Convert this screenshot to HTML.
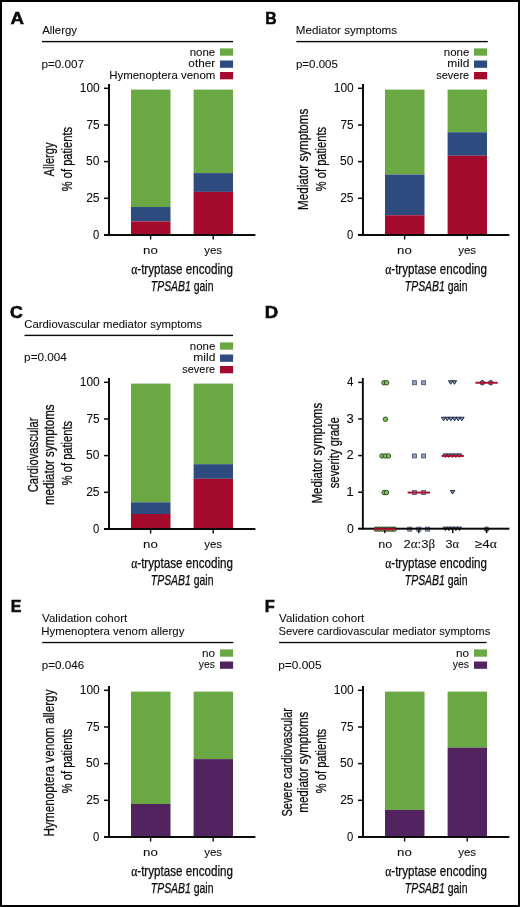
<!DOCTYPE html>
<html><head><meta charset="utf-8"><style>
html,body{margin:0;padding:0;background:#fff;}
body{width:520px;height:907px;overflow:hidden;position:relative;}
svg{position:absolute;left:0;top:0;display:block;}
.tx{will-change:transform;}
text{font-family:"Liberation Sans",sans-serif;fill:#0a0a0a;}
.frame{position:absolute;left:0;top:0;width:516px;height:903px;border:2px solid #000;}
</style></head><body>
<svg width="520" height="907" viewBox="0 0 520 907">
<rect x="42.00" y="40.90" width="191.00" height="1.40" fill="#0a0a0a"/>
<rect x="220.00" y="48.40" width="13.10" height="7.30" fill="#6aa843"/>
<rect x="220.00" y="60.50" width="13.10" height="7.30" fill="#2d4b7e"/>
<rect x="220.00" y="72.00" width="13.10" height="7.30" fill="#a30a2b"/>
<rect x="131.00" y="89.60" width="39.50" height="117.40" fill="#6aa843"/>
<rect x="131.00" y="207.00" width="39.50" height="14.40" fill="#2d4b7e"/>
<rect x="131.00" y="221.40" width="39.50" height="12.60" fill="#a30a2b"/>
<rect x="193.60" y="89.60" width="39.40" height="83.50" fill="#6aa843"/>
<rect x="193.60" y="173.10" width="39.40" height="18.80" fill="#2d4b7e"/>
<rect x="193.60" y="191.90" width="39.40" height="42.10" fill="#a30a2b"/>
<rect x="108.00" y="84.00" width="2.00" height="152.00" fill="#0a0a0a"/>
<rect x="104.00" y="234.00" width="151.40" height="2.00" fill="#0a0a0a"/>
<rect x="104.00" y="87.55" width="4.00" height="1.50" fill="#0a0a0a"/>
<rect x="104.00" y="124.25" width="4.00" height="1.50" fill="#0a0a0a"/>
<rect x="104.00" y="160.85" width="4.00" height="1.50" fill="#0a0a0a"/>
<rect x="104.00" y="197.55" width="4.00" height="1.50" fill="#0a0a0a"/>
<rect x="149.90" y="236.00" width="1.40" height="3.50" fill="#0a0a0a"/>
<rect x="212.50" y="236.00" width="1.40" height="3.50" fill="#0a0a0a"/>
<rect x="296.30" y="40.90" width="191.50" height="1.40" fill="#0a0a0a"/>
<rect x="474.00" y="48.40" width="13.10" height="7.30" fill="#6aa843"/>
<rect x="474.00" y="60.50" width="13.10" height="7.30" fill="#2d4b7e"/>
<rect x="474.00" y="72.00" width="13.10" height="7.30" fill="#a30a2b"/>
<rect x="385.00" y="89.60" width="39.50" height="84.90" fill="#6aa843"/>
<rect x="385.00" y="174.50" width="39.50" height="40.75" fill="#2d4b7e"/>
<rect x="385.00" y="215.25" width="39.50" height="18.75" fill="#a30a2b"/>
<rect x="447.60" y="89.60" width="39.40" height="42.65" fill="#6aa843"/>
<rect x="447.60" y="132.25" width="39.40" height="23.50" fill="#2d4b7e"/>
<rect x="447.60" y="155.75" width="39.40" height="78.25" fill="#a30a2b"/>
<rect x="362.00" y="84.00" width="2.00" height="152.00" fill="#0a0a0a"/>
<rect x="358.00" y="234.00" width="151.40" height="2.00" fill="#0a0a0a"/>
<rect x="358.00" y="87.55" width="4.00" height="1.50" fill="#0a0a0a"/>
<rect x="358.00" y="124.25" width="4.00" height="1.50" fill="#0a0a0a"/>
<rect x="358.00" y="160.85" width="4.00" height="1.50" fill="#0a0a0a"/>
<rect x="358.00" y="197.55" width="4.00" height="1.50" fill="#0a0a0a"/>
<rect x="403.90" y="236.00" width="1.40" height="3.50" fill="#0a0a0a"/>
<rect x="466.50" y="236.00" width="1.40" height="3.50" fill="#0a0a0a"/>
<rect x="24.50" y="334.70" width="208.50" height="1.40" fill="#0a0a0a"/>
<rect x="220.00" y="342.40" width="13.10" height="7.30" fill="#6aa843"/>
<rect x="220.00" y="354.50" width="13.10" height="7.30" fill="#2d4b7e"/>
<rect x="220.00" y="366.00" width="13.10" height="7.30" fill="#a30a2b"/>
<rect x="131.00" y="383.60" width="39.50" height="118.70" fill="#6aa843"/>
<rect x="131.00" y="502.30" width="39.50" height="11.70" fill="#2d4b7e"/>
<rect x="131.00" y="514.00" width="39.50" height="14.00" fill="#a30a2b"/>
<rect x="193.60" y="383.60" width="39.40" height="80.60" fill="#6aa843"/>
<rect x="193.60" y="464.20" width="39.40" height="14.60" fill="#2d4b7e"/>
<rect x="193.60" y="478.80" width="39.40" height="49.20" fill="#a30a2b"/>
<rect x="108.00" y="378.00" width="2.00" height="152.00" fill="#0a0a0a"/>
<rect x="104.00" y="528.00" width="151.40" height="2.00" fill="#0a0a0a"/>
<rect x="104.00" y="381.55" width="4.00" height="1.50" fill="#0a0a0a"/>
<rect x="104.00" y="418.25" width="4.00" height="1.50" fill="#0a0a0a"/>
<rect x="104.00" y="454.85" width="4.00" height="1.50" fill="#0a0a0a"/>
<rect x="104.00" y="491.55" width="4.00" height="1.50" fill="#0a0a0a"/>
<rect x="149.90" y="530.00" width="1.40" height="3.50" fill="#0a0a0a"/>
<rect x="212.50" y="530.00" width="1.40" height="3.50" fill="#0a0a0a"/>
<circle cx="384.00" cy="382.75" r="2.25" fill="#7cc35a" stroke="#2a3f22" stroke-width="0.9"/>
<circle cx="386.60" cy="382.75" r="2.25" fill="#7cc35a" stroke="#2a3f22" stroke-width="0.9"/>
<circle cx="385.40" cy="419.25" r="2.25" fill="#7cc35a" stroke="#2a3f22" stroke-width="0.9"/>
<circle cx="382.00" cy="455.95" r="2.25" fill="#7cc35a" stroke="#2a3f22" stroke-width="0.9"/>
<circle cx="385.30" cy="455.95" r="2.25" fill="#7cc35a" stroke="#2a3f22" stroke-width="0.9"/>
<circle cx="388.40" cy="455.95" r="2.25" fill="#7cc35a" stroke="#2a3f22" stroke-width="0.9"/>
<circle cx="384.10" cy="492.55" r="2.25" fill="#7cc35a" stroke="#2a3f22" stroke-width="0.9"/>
<circle cx="386.50" cy="492.55" r="2.25" fill="#7cc35a" stroke="#2a3f22" stroke-width="0.9"/>
<circle cx="376.20" cy="529.15" r="2.25" fill="#7cc35a" stroke="#2a3f22" stroke-width="0.9"/>
<circle cx="379.30" cy="529.15" r="2.25" fill="#7cc35a" stroke="#2a3f22" stroke-width="0.9"/>
<circle cx="382.40" cy="529.15" r="2.25" fill="#7cc35a" stroke="#2a3f22" stroke-width="0.9"/>
<circle cx="385.50" cy="529.15" r="2.25" fill="#7cc35a" stroke="#2a3f22" stroke-width="0.9"/>
<circle cx="388.60" cy="529.15" r="2.25" fill="#7cc35a" stroke="#2a3f22" stroke-width="0.9"/>
<circle cx="391.70" cy="529.15" r="2.25" fill="#7cc35a" stroke="#2a3f22" stroke-width="0.9"/>
<circle cx="394.20" cy="529.15" r="2.25" fill="#7cc35a" stroke="#2a3f22" stroke-width="0.9"/>
<rect x="412.40" y="380.75" width="4" height="4" fill="#8fa1c9" stroke="#44506e" stroke-width="0.8"/>
<rect x="421.60" y="380.75" width="4" height="4" fill="#8fa1c9" stroke="#44506e" stroke-width="0.8"/>
<rect x="412.40" y="453.95" width="4" height="4" fill="#8fa1c9" stroke="#44506e" stroke-width="0.8"/>
<rect x="421.60" y="453.95" width="4" height="4" fill="#8fa1c9" stroke="#44506e" stroke-width="0.8"/>
<rect x="412.40" y="490.55" width="4" height="4" fill="#8fa1c9" stroke="#44506e" stroke-width="0.8"/>
<rect x="421.60" y="490.55" width="4" height="4" fill="#8fa1c9" stroke="#44506e" stroke-width="0.8"/>
<rect x="407.70" y="527.15" width="4" height="4" fill="#8fa1c9" stroke="#44506e" stroke-width="0.8"/>
<rect x="416.80" y="527.15" width="4" height="4" fill="#8fa1c9" stroke="#44506e" stroke-width="0.8"/>
<rect x="425.60" y="527.15" width="4" height="4" fill="#8fa1c9" stroke="#44506e" stroke-width="0.8"/>
<path d="M448.45,380.75L452.95,380.75L450.70,384.25Z" fill="#8099c8" stroke="#1c2338" stroke-width="0.95" stroke-linejoin="round"/>
<path d="M452.15,380.75L456.65,380.75L454.40,384.25Z" fill="#8099c8" stroke="#1c2338" stroke-width="0.95" stroke-linejoin="round"/>
<path d="M441.35,417.25L445.85,417.25L443.60,420.75Z" fill="#8099c8" stroke="#1c2338" stroke-width="0.95" stroke-linejoin="round"/>
<path d="M445.01,417.25L449.51,417.25L447.26,420.75Z" fill="#8099c8" stroke="#1c2338" stroke-width="0.95" stroke-linejoin="round"/>
<path d="M448.67,417.25L453.17,417.25L450.92,420.75Z" fill="#8099c8" stroke="#1c2338" stroke-width="0.95" stroke-linejoin="round"/>
<path d="M452.33,417.25L456.83,417.25L454.58,420.75Z" fill="#8099c8" stroke="#1c2338" stroke-width="0.95" stroke-linejoin="round"/>
<path d="M455.99,417.25L460.49,417.25L458.24,420.75Z" fill="#8099c8" stroke="#1c2338" stroke-width="0.95" stroke-linejoin="round"/>
<path d="M459.65,417.25L464.15,417.25L461.90,420.75Z" fill="#8099c8" stroke="#1c2338" stroke-width="0.95" stroke-linejoin="round"/>
<path d="M443.15,453.95L447.65,453.95L445.40,457.45Z" fill="#8099c8" stroke="#1c2338" stroke-width="0.95" stroke-linejoin="round"/>
<path d="M446.65,453.95L451.15,453.95L448.90,457.45Z" fill="#8099c8" stroke="#1c2338" stroke-width="0.95" stroke-linejoin="round"/>
<path d="M450.15,453.95L454.65,453.95L452.40,457.45Z" fill="#8099c8" stroke="#1c2338" stroke-width="0.95" stroke-linejoin="round"/>
<path d="M453.65,453.95L458.15,453.95L455.90,457.45Z" fill="#8099c8" stroke="#1c2338" stroke-width="0.95" stroke-linejoin="round"/>
<path d="M457.15,453.95L461.65,453.95L459.40,457.45Z" fill="#8099c8" stroke="#1c2338" stroke-width="0.95" stroke-linejoin="round"/>
<path d="M450.35,490.55L454.85,490.55L452.60,494.05Z" fill="#8099c8" stroke="#1c2338" stroke-width="0.95" stroke-linejoin="round"/>
<path d="M443.15,527.15L447.65,527.15L445.40,530.65Z" fill="#8099c8" stroke="#1c2338" stroke-width="0.95" stroke-linejoin="round"/>
<path d="M446.65,527.15L451.15,527.15L448.90,530.65Z" fill="#8099c8" stroke="#1c2338" stroke-width="0.95" stroke-linejoin="round"/>
<path d="M450.15,527.15L454.65,527.15L452.40,530.65Z" fill="#8099c8" stroke="#1c2338" stroke-width="0.95" stroke-linejoin="round"/>
<path d="M453.65,527.15L458.15,527.15L455.90,530.65Z" fill="#8099c8" stroke="#1c2338" stroke-width="0.95" stroke-linejoin="round"/>
<path d="M457.15,527.15L461.65,527.15L459.40,530.65Z" fill="#8099c8" stroke="#1c2338" stroke-width="0.95" stroke-linejoin="round"/>
<circle cx="482.30" cy="382.75" r="2.25" fill="#6b7890" stroke="#283040" stroke-width="0.9"/>
<circle cx="490.70" cy="382.75" r="2.25" fill="#6b7890" stroke="#283040" stroke-width="0.9"/>
<circle cx="486.60" cy="529.15" r="2.25" fill="#6b7890" stroke="#283040" stroke-width="0.9"/>
<rect x="361.90" y="378.00" width="1.90" height="151.70" fill="#0a0a0a"/>
<rect x="358.00" y="527.70" width="151.40" height="2.00" fill="#0a0a0a"/>
<rect x="358.20" y="491.45" width="3.80" height="1.50" fill="#0a0a0a"/>
<rect x="358.20" y="454.85" width="3.80" height="1.50" fill="#0a0a0a"/>
<rect x="358.20" y="418.15" width="3.80" height="1.50" fill="#0a0a0a"/>
<rect x="358.20" y="381.65" width="3.80" height="1.50" fill="#0a0a0a"/>
<rect x="384.10" y="529.70" width="1.40" height="3.50" fill="#0a0a0a"/>
<rect x="418.10" y="529.70" width="1.40" height="3.50" fill="#0a0a0a"/>
<rect x="452.10" y="529.70" width="1.40" height="3.50" fill="#0a0a0a"/>
<rect x="485.90" y="529.70" width="1.40" height="3.50" fill="#0a0a0a"/>
<rect x="373.65" y="528.15" width="22.30" height="2.00" fill="#b0112e"/>
<rect x="407.65" y="491.55" width="22.30" height="2.00" fill="#b0112e"/>
<rect x="441.65" y="454.95" width="22.30" height="2.00" fill="#b0112e"/>
<rect x="475.45" y="381.75" width="22.30" height="2.00" fill="#b0112e"/>
<rect x="42.20" y="641.85" width="191.10" height="1.35" fill="#0a0a0a"/>
<rect x="220.00" y="649.40" width="13.10" height="7.30" fill="#6aa843"/>
<rect x="220.00" y="661.50" width="13.10" height="7.30" fill="#51245f"/>
<rect x="131.00" y="691.60" width="39.50" height="112.40" fill="#6aa843"/>
<rect x="131.00" y="804.00" width="39.50" height="32.00" fill="#51245f"/>
<rect x="193.60" y="691.60" width="39.40" height="67.50" fill="#6aa843"/>
<rect x="193.60" y="759.10" width="39.40" height="76.90" fill="#51245f"/>
<rect x="108.00" y="686.00" width="2.00" height="152.00" fill="#0a0a0a"/>
<rect x="104.00" y="836.00" width="151.40" height="2.00" fill="#0a0a0a"/>
<rect x="104.00" y="689.55" width="4.00" height="1.50" fill="#0a0a0a"/>
<rect x="104.00" y="726.25" width="4.00" height="1.50" fill="#0a0a0a"/>
<rect x="104.00" y="762.85" width="4.00" height="1.50" fill="#0a0a0a"/>
<rect x="104.00" y="799.55" width="4.00" height="1.50" fill="#0a0a0a"/>
<rect x="149.90" y="838.00" width="1.40" height="3.50" fill="#0a0a0a"/>
<rect x="212.50" y="838.00" width="1.40" height="3.50" fill="#0a0a0a"/>
<rect x="279.00" y="641.85" width="207.50" height="1.35" fill="#0a0a0a"/>
<rect x="474.00" y="649.40" width="13.10" height="7.30" fill="#6aa843"/>
<rect x="474.00" y="661.50" width="13.10" height="7.30" fill="#51245f"/>
<rect x="385.00" y="691.60" width="39.50" height="118.30" fill="#6aa843"/>
<rect x="385.00" y="809.90" width="39.50" height="26.10" fill="#51245f"/>
<rect x="447.60" y="691.60" width="39.40" height="56.00" fill="#6aa843"/>
<rect x="447.60" y="747.60" width="39.40" height="88.40" fill="#51245f"/>
<rect x="362.00" y="686.00" width="2.00" height="152.00" fill="#0a0a0a"/>
<rect x="358.00" y="836.00" width="151.40" height="2.00" fill="#0a0a0a"/>
<rect x="358.00" y="689.55" width="4.00" height="1.50" fill="#0a0a0a"/>
<rect x="358.00" y="726.25" width="4.00" height="1.50" fill="#0a0a0a"/>
<rect x="358.00" y="762.85" width="4.00" height="1.50" fill="#0a0a0a"/>
<rect x="358.00" y="799.55" width="4.00" height="1.50" fill="#0a0a0a"/>
<rect x="403.90" y="838.00" width="1.40" height="3.50" fill="#0a0a0a"/>
<rect x="466.50" y="838.00" width="1.40" height="3.50" fill="#0a0a0a"/>
<g class="tx">
<text id="A_L" x="10.402" y="24.30" font-size="16.8" textLength="13.491" lengthAdjust="spacingAndGlyphs" font-weight="bold" stroke="#0a0a0a" stroke-width="0.55">A</text>
<text id="A_h1" x="42.145" y="34.00" font-size="10.8" textLength="34.959" lengthAdjust="spacingAndGlyphs" stroke="#0a0a0a" stroke-width="0.06">Allergy</text>
<text id="A_leg0" x="189.649" y="55.70" font-size="11" textLength="25.606" lengthAdjust="spacingAndGlyphs" stroke="#0a0a0a" stroke-width="0.06">none</text>
<text id="A_leg1" x="188.383" y="67.40" font-size="11" textLength="26.841" lengthAdjust="spacingAndGlyphs" stroke="#0a0a0a" stroke-width="0.06">other</text>
<text id="A_leg2" x="109.197" y="79.10" font-size="11" textLength="106.068" lengthAdjust="spacingAndGlyphs" stroke="#0a0a0a" stroke-width="0.06">Hymenoptera venom</text>
<text id="A_p" x="41.519" y="67.60" font-size="11.5" textLength="42.551" lengthAdjust="spacingAndGlyphs" stroke="#0a0a0a" stroke-width="0.06">p=0.007</text>
<text id="A_t100" x="79.747" y="92.00" font-size="12" textLength="20.011" lengthAdjust="spacingAndGlyphs" stroke="#0a0a0a" stroke-width="0.06">100</text>
<text id="A_t75" x="86.570" y="128.70" font-size="12" textLength="13.083" lengthAdjust="spacingAndGlyphs" stroke="#0a0a0a" stroke-width="0.06">75</text>
<text id="A_t50" x="85.985" y="165.30" font-size="12" textLength="13.332" lengthAdjust="spacingAndGlyphs" stroke="#0a0a0a" stroke-width="0.06">50</text>
<text id="A_t25" x="86.142" y="202.00" font-size="12" textLength="13.430" lengthAdjust="spacingAndGlyphs" stroke="#0a0a0a" stroke-width="0.06">25</text>
<text id="A_t0" x="93.057" y="238.50" font-size="12" textLength="6.273" lengthAdjust="spacingAndGlyphs" stroke="#0a0a0a" stroke-width="0.06">0</text>
<text id="A_cno" x="143.046" y="253.80" font-size="11.6" textLength="14.795" lengthAdjust="spacingAndGlyphs" stroke="#0a0a0a" stroke-width="0.06">no</text>
<text id="A_cyes" x="204.183" y="253.80" font-size="11.6" textLength="17.915" lengthAdjust="spacingAndGlyphs" stroke="#0a0a0a" stroke-width="0.06">yes</text>
<text id="A_xt1" x="131.163" y="273.90" font-size="14.3" textLength="101.809" lengthAdjust="spacingAndGlyphs" stroke="#0a0a0a" stroke-width="0.25"><tspan font-family="Liberation Serif">&#945;</tspan>-tryptase encoding</text>
<text id="A_xt2" x="150.800" y="291.40" font-size="14.3" textLength="62.681" lengthAdjust="spacingAndGlyphs" stroke="#0a0a0a" stroke-width="0.25"><tspan font-style="italic">TPSAB1</tspan> gain</text>
<text id="A_yt0" transform="translate(54.20,176.561) rotate(-90)" x="0" y="0" font-size="14.3" textLength="34.251" lengthAdjust="spacingAndGlyphs" stroke="#0a0a0a" stroke-width="0.25">Allergy</text>
<text id="A_yt1" transform="translate(71.50,191.127) rotate(-90)" x="0" y="0" font-size="14.3" textLength="64.148" lengthAdjust="spacingAndGlyphs" stroke="#0a0a0a" stroke-width="0.25">% of patients</text>
<text id="B_L" x="265.249" y="24.35" font-size="16.8" textLength="11.389" lengthAdjust="spacingAndGlyphs" font-weight="bold" stroke="#0a0a0a" stroke-width="0.55">B</text>
<text id="B_h1" x="295.813" y="34.00" font-size="10.8" textLength="101.244" lengthAdjust="spacingAndGlyphs" stroke="#0a0a0a" stroke-width="0.06">Mediator symptoms</text>
<text id="B_leg0" x="443.795" y="55.70" font-size="11" textLength="25.538" lengthAdjust="spacingAndGlyphs" stroke="#0a0a0a" stroke-width="0.06">none</text>
<text id="B_leg1" x="447.366" y="67.40" font-size="11" textLength="22.002" lengthAdjust="spacingAndGlyphs" stroke="#0a0a0a" stroke-width="0.06">mild</text>
<text id="B_leg2" x="436.306" y="79.10" font-size="11" textLength="32.864" lengthAdjust="spacingAndGlyphs" stroke="#0a0a0a" stroke-width="0.06">severe</text>
<text id="B_p" x="295.917" y="67.80" font-size="11.5" textLength="41.964" lengthAdjust="spacingAndGlyphs" stroke="#0a0a0a" stroke-width="0.06">p=0.005</text>
<text id="B_t100" x="333.747" y="92.00" font-size="12" textLength="20.011" lengthAdjust="spacingAndGlyphs" stroke="#0a0a0a" stroke-width="0.06">100</text>
<text id="B_t75" x="340.570" y="128.70" font-size="12" textLength="13.083" lengthAdjust="spacingAndGlyphs" stroke="#0a0a0a" stroke-width="0.06">75</text>
<text id="B_t50" x="339.985" y="165.30" font-size="12" textLength="13.332" lengthAdjust="spacingAndGlyphs" stroke="#0a0a0a" stroke-width="0.06">50</text>
<text id="B_t25" x="340.142" y="202.00" font-size="12" textLength="13.430" lengthAdjust="spacingAndGlyphs" stroke="#0a0a0a" stroke-width="0.06">25</text>
<text id="B_t0" x="347.057" y="238.50" font-size="12" textLength="6.273" lengthAdjust="spacingAndGlyphs" stroke="#0a0a0a" stroke-width="0.06">0</text>
<text id="B_cno" x="397.046" y="253.80" font-size="11.6" textLength="14.795" lengthAdjust="spacingAndGlyphs" stroke="#0a0a0a" stroke-width="0.06">no</text>
<text id="B_cyes" x="458.183" y="253.80" font-size="11.6" textLength="17.915" lengthAdjust="spacingAndGlyphs" stroke="#0a0a0a" stroke-width="0.06">yes</text>
<text id="B_xt1" x="385.163" y="273.90" font-size="14.3" textLength="101.809" lengthAdjust="spacingAndGlyphs" stroke="#0a0a0a" stroke-width="0.25"><tspan font-family="Liberation Serif">&#945;</tspan>-tryptase encoding</text>
<text id="B_xt2" x="404.800" y="291.40" font-size="14.3" textLength="62.681" lengthAdjust="spacingAndGlyphs" stroke="#0a0a0a" stroke-width="0.25"><tspan font-style="italic">TPSAB1</tspan> gain</text>
<text id="B_yt0" transform="translate(308.20,209.891) rotate(-90)" x="0" y="0" font-size="14.3" textLength="101.183" lengthAdjust="spacingAndGlyphs" stroke="#0a0a0a" stroke-width="0.25">Mediator symptoms</text>
<text id="B_yt1" transform="translate(325.50,191.127) rotate(-90)" x="0" y="0" font-size="14.3" textLength="64.148" lengthAdjust="spacingAndGlyphs" stroke="#0a0a0a" stroke-width="0.25">% of patients</text>
<text id="C_L" x="10.067" y="318.20" font-size="16.8" textLength="12.841" lengthAdjust="spacingAndGlyphs" font-weight="bold" stroke="#0a0a0a" stroke-width="0.55">C</text>
<text id="C_h1" x="24.315" y="328.00" font-size="10.8" textLength="177.585" lengthAdjust="spacingAndGlyphs" stroke="#0a0a0a" stroke-width="0.06">Cardiovascular mediator symptoms</text>
<text id="C_leg0" x="189.795" y="349.70" font-size="11" textLength="25.538" lengthAdjust="spacingAndGlyphs" stroke="#0a0a0a" stroke-width="0.06">none</text>
<text id="C_leg1" x="193.366" y="361.40" font-size="11" textLength="22.002" lengthAdjust="spacingAndGlyphs" stroke="#0a0a0a" stroke-width="0.06">mild</text>
<text id="C_leg2" x="182.306" y="373.10" font-size="11" textLength="32.864" lengthAdjust="spacingAndGlyphs" stroke="#0a0a0a" stroke-width="0.06">severe</text>
<text id="C_p" x="24.128" y="361.30" font-size="11.5" textLength="42.700" lengthAdjust="spacingAndGlyphs" stroke="#0a0a0a" stroke-width="0.06">p=0.004</text>
<text id="C_t100" x="79.747" y="386.00" font-size="12" textLength="20.011" lengthAdjust="spacingAndGlyphs" stroke="#0a0a0a" stroke-width="0.06">100</text>
<text id="C_t75" x="86.570" y="422.70" font-size="12" textLength="13.083" lengthAdjust="spacingAndGlyphs" stroke="#0a0a0a" stroke-width="0.06">75</text>
<text id="C_t50" x="85.985" y="459.30" font-size="12" textLength="13.332" lengthAdjust="spacingAndGlyphs" stroke="#0a0a0a" stroke-width="0.06">50</text>
<text id="C_t25" x="86.142" y="496.00" font-size="12" textLength="13.430" lengthAdjust="spacingAndGlyphs" stroke="#0a0a0a" stroke-width="0.06">25</text>
<text id="C_t0" x="93.057" y="532.50" font-size="12" textLength="6.273" lengthAdjust="spacingAndGlyphs" stroke="#0a0a0a" stroke-width="0.06">0</text>
<text id="C_cno" x="143.046" y="547.80" font-size="11.6" textLength="14.795" lengthAdjust="spacingAndGlyphs" stroke="#0a0a0a" stroke-width="0.06">no</text>
<text id="C_cyes" x="204.183" y="547.80" font-size="11.6" textLength="17.915" lengthAdjust="spacingAndGlyphs" stroke="#0a0a0a" stroke-width="0.06">yes</text>
<text id="C_xt1" x="131.163" y="567.90" font-size="14.3" textLength="101.809" lengthAdjust="spacingAndGlyphs" stroke="#0a0a0a" stroke-width="0.25"><tspan font-family="Liberation Serif">&#945;</tspan>-tryptase encoding</text>
<text id="C_xt2" x="150.800" y="585.40" font-size="14.3" textLength="62.681" lengthAdjust="spacingAndGlyphs" stroke="#0a0a0a" stroke-width="0.25"><tspan font-style="italic">TPSAB1</tspan> gain</text>
<text id="C_yt0" transform="translate(37.60,492.364) rotate(-90)" x="0" y="0" font-size="14.3" textLength="74.986" lengthAdjust="spacingAndGlyphs" stroke="#0a0a0a" stroke-width="0.25">Cardiovascular</text>
<text id="C_yt1" transform="translate(54.10,504.992) rotate(-90)" x="0" y="0" font-size="14.3" textLength="100.497" lengthAdjust="spacingAndGlyphs" stroke="#0a0a0a" stroke-width="0.25">mediator symptoms</text>
<text id="C_yt2" transform="translate(71.60,485.152) rotate(-90)" x="0" y="0" font-size="14.3" textLength="64.174" lengthAdjust="spacingAndGlyphs" stroke="#0a0a0a" stroke-width="0.25">% of patients</text>
<text id="D_L" x="264.762" y="317.80" font-size="16.8" textLength="13.421" lengthAdjust="spacingAndGlyphs" font-weight="bold" stroke="#0a0a0a" stroke-width="0.55">D</text>
<text id="D_t0" x="346.973" y="532.50" font-size="12" textLength="6.820" lengthAdjust="spacingAndGlyphs" stroke="#0a0a0a" stroke-width="0.06">0</text>
<text id="D_t1" x="346.379" y="495.90" font-size="12" textLength="7.525" lengthAdjust="spacingAndGlyphs" stroke="#0a0a0a" stroke-width="0.06">1</text>
<text id="D_t2" x="346.583" y="459.30" font-size="12" textLength="7.152" lengthAdjust="spacingAndGlyphs" stroke="#0a0a0a" stroke-width="0.06">2</text>
<text id="D_t3" x="346.569" y="422.60" font-size="12" textLength="7.245" lengthAdjust="spacingAndGlyphs" stroke="#0a0a0a" stroke-width="0.06">3</text>
<text id="D_t4" x="347.043" y="386.10" font-size="12" textLength="6.458" lengthAdjust="spacingAndGlyphs" stroke="#0a0a0a" stroke-width="0.06">4</text>
<text id="D_c0" x="378.158" y="547.60" font-size="11.6" textLength="13.974" lengthAdjust="spacingAndGlyphs" stroke="#0a0a0a" stroke-width="0.06">no</text>
<text id="D_c1" x="403.545" y="547.60" font-size="11.6" textLength="31.597" lengthAdjust="spacingAndGlyphs" stroke="#0a0a0a" stroke-width="0.06">2<tspan font-family="Liberation Serif">&#945;</tspan>:3<tspan font-family="Liberation Serif">&#946;</tspan></text>
<text id="D_c2" x="445.530" y="547.60" font-size="11.6" textLength="13.543" lengthAdjust="spacingAndGlyphs" stroke="#0a0a0a" stroke-width="0.06">3<tspan font-family="Liberation Serif">&#945;</tspan></text>
<text id="D_c3" x="474.827" y="547.60" font-size="11.6" textLength="22.033" lengthAdjust="spacingAndGlyphs" stroke="#0a0a0a" stroke-width="0.06">&#8805;4<tspan font-family="Liberation Serif">&#945;</tspan></text>
<text id="D_xt1" x="385.163" y="567.90" font-size="14.3" textLength="101.809" lengthAdjust="spacingAndGlyphs" stroke="#0a0a0a" stroke-width="0.25"><tspan font-family="Liberation Serif">&#945;</tspan>-tryptase encoding</text>
<text id="D_xt2" x="404.800" y="585.40" font-size="14.3" textLength="62.681" lengthAdjust="spacingAndGlyphs" stroke="#0a0a0a" stroke-width="0.25"><tspan font-style="italic">TPSAB1</tspan> gain</text>
<text id="D_yt0" transform="translate(321.80,503.590) rotate(-90)" x="0" y="0" font-size="14.3" textLength="100.850" lengthAdjust="spacingAndGlyphs" stroke="#0a0a0a" stroke-width="0.25">Mediator symptoms</text>
<text id="D_yt1" transform="translate(339.20,488.276) rotate(-90)" x="0" y="0" font-size="14.3" textLength="70.962" lengthAdjust="spacingAndGlyphs" stroke="#0a0a0a" stroke-width="0.25">severity grade</text>
<text id="E_L" x="10.827" y="611.80" font-size="16.8" textLength="10.683" lengthAdjust="spacingAndGlyphs" font-weight="bold" stroke="#0a0a0a" stroke-width="0.55">E</text>
<text id="E_h1" x="42.108" y="621.70" font-size="10.8" textLength="85.189" lengthAdjust="spacingAndGlyphs" stroke="#0a0a0a" stroke-width="0.06">Validation cohort</text>
<text id="E_h2" x="41.190" y="635.00" font-size="10.8" textLength="143.213" lengthAdjust="spacingAndGlyphs" stroke="#0a0a0a" stroke-width="0.06">Hymenoptera venom allergy</text>
<text id="E_leg0" x="202.121" y="656.70" font-size="11" textLength="13.018" lengthAdjust="spacingAndGlyphs" stroke="#0a0a0a" stroke-width="0.06">no</text>
<text id="E_leg1" x="198.824" y="668.40" font-size="11" textLength="16.170" lengthAdjust="spacingAndGlyphs" stroke="#0a0a0a" stroke-width="0.06">yes</text>
<text id="E_p" x="41.780" y="668.50" font-size="11.5" textLength="42.352" lengthAdjust="spacingAndGlyphs" stroke="#0a0a0a" stroke-width="0.06">p=0.046</text>
<text id="E_t100" x="79.747" y="694.00" font-size="12" textLength="20.011" lengthAdjust="spacingAndGlyphs" stroke="#0a0a0a" stroke-width="0.06">100</text>
<text id="E_t75" x="86.570" y="730.70" font-size="12" textLength="13.083" lengthAdjust="spacingAndGlyphs" stroke="#0a0a0a" stroke-width="0.06">75</text>
<text id="E_t50" x="85.985" y="767.30" font-size="12" textLength="13.332" lengthAdjust="spacingAndGlyphs" stroke="#0a0a0a" stroke-width="0.06">50</text>
<text id="E_t25" x="86.142" y="804.00" font-size="12" textLength="13.430" lengthAdjust="spacingAndGlyphs" stroke="#0a0a0a" stroke-width="0.06">25</text>
<text id="E_t0" x="93.057" y="840.50" font-size="12" textLength="6.273" lengthAdjust="spacingAndGlyphs" stroke="#0a0a0a" stroke-width="0.06">0</text>
<text id="E_cno" x="143.046" y="855.80" font-size="11.6" textLength="14.795" lengthAdjust="spacingAndGlyphs" stroke="#0a0a0a" stroke-width="0.06">no</text>
<text id="E_cyes" x="204.183" y="855.80" font-size="11.6" textLength="17.915" lengthAdjust="spacingAndGlyphs" stroke="#0a0a0a" stroke-width="0.06">yes</text>
<text id="E_xt1" x="131.163" y="875.90" font-size="14.3" textLength="101.809" lengthAdjust="spacingAndGlyphs" stroke="#0a0a0a" stroke-width="0.25"><tspan font-family="Liberation Serif">&#945;</tspan>-tryptase encoding</text>
<text id="E_xt2" x="150.800" y="893.40" font-size="14.3" textLength="62.681" lengthAdjust="spacingAndGlyphs" stroke="#0a0a0a" stroke-width="0.25"><tspan font-style="italic">TPSAB1</tspan> gain</text>
<text id="E_yt0" transform="translate(54.20,836.473) rotate(-90)" x="0" y="0" font-size="14.3" textLength="147.003" lengthAdjust="spacingAndGlyphs" stroke="#0a0a0a" stroke-width="0.25">Hymenoptera venom allergy</text>
<text id="E_yt1" transform="translate(71.50,793.127) rotate(-90)" x="0" y="0" font-size="14.3" textLength="64.148" lengthAdjust="spacingAndGlyphs" stroke="#0a0a0a" stroke-width="0.25">% of patients</text>
<text id="F_L" x="264.853" y="612.30" font-size="16.8" textLength="10.020" lengthAdjust="spacingAndGlyphs" font-weight="bold" stroke="#0a0a0a" stroke-width="0.55">F</text>
<text id="F_h1" x="279.077" y="621.70" font-size="10.8" textLength="85.134" lengthAdjust="spacingAndGlyphs" stroke="#0a0a0a" stroke-width="0.06">Validation cohort</text>
<text id="F_h2" x="278.434" y="635.20" font-size="10.8" textLength="211.836" lengthAdjust="spacingAndGlyphs" stroke="#0a0a0a" stroke-width="0.06">Severe cardiovascular mediator symptoms</text>
<text id="F_leg0" x="456.121" y="656.70" font-size="11" textLength="13.018" lengthAdjust="spacingAndGlyphs" stroke="#0a0a0a" stroke-width="0.06">no</text>
<text id="F_leg1" x="452.824" y="668.40" font-size="11" textLength="16.170" lengthAdjust="spacingAndGlyphs" stroke="#0a0a0a" stroke-width="0.06">yes</text>
<text id="F_p" x="278.176" y="668.80" font-size="11.5" textLength="43.341" lengthAdjust="spacingAndGlyphs" stroke="#0a0a0a" stroke-width="0.06">p=0.005</text>
<text id="F_t100" x="333.747" y="694.00" font-size="12" textLength="20.011" lengthAdjust="spacingAndGlyphs" stroke="#0a0a0a" stroke-width="0.06">100</text>
<text id="F_t75" x="340.570" y="730.70" font-size="12" textLength="13.083" lengthAdjust="spacingAndGlyphs" stroke="#0a0a0a" stroke-width="0.06">75</text>
<text id="F_t50" x="339.985" y="767.30" font-size="12" textLength="13.332" lengthAdjust="spacingAndGlyphs" stroke="#0a0a0a" stroke-width="0.06">50</text>
<text id="F_t25" x="340.142" y="804.00" font-size="12" textLength="13.430" lengthAdjust="spacingAndGlyphs" stroke="#0a0a0a" stroke-width="0.06">25</text>
<text id="F_t0" x="347.057" y="840.50" font-size="12" textLength="6.273" lengthAdjust="spacingAndGlyphs" stroke="#0a0a0a" stroke-width="0.06">0</text>
<text id="F_cno" x="397.046" y="855.80" font-size="11.6" textLength="14.795" lengthAdjust="spacingAndGlyphs" stroke="#0a0a0a" stroke-width="0.06">no</text>
<text id="F_cyes" x="458.183" y="855.80" font-size="11.6" textLength="17.915" lengthAdjust="spacingAndGlyphs" stroke="#0a0a0a" stroke-width="0.06">yes</text>
<text id="F_xt1" x="385.163" y="875.90" font-size="14.3" textLength="101.809" lengthAdjust="spacingAndGlyphs" stroke="#0a0a0a" stroke-width="0.25"><tspan font-family="Liberation Serif">&#945;</tspan>-tryptase encoding</text>
<text id="F_xt2" x="404.800" y="893.40" font-size="14.3" textLength="62.681" lengthAdjust="spacingAndGlyphs" stroke="#0a0a0a" stroke-width="0.25"><tspan font-style="italic">TPSAB1</tspan> gain</text>
<text id="F_yt0" transform="translate(291.60,816.535) rotate(-90)" x="0" y="0" font-size="14.3" textLength="108.508" lengthAdjust="spacingAndGlyphs" stroke="#0a0a0a" stroke-width="0.25">Severe cardiovascular</text>
<text id="F_yt1" transform="translate(308.10,812.718) rotate(-90)" x="0" y="0" font-size="14.3" textLength="101.056" lengthAdjust="spacingAndGlyphs" stroke="#0a0a0a" stroke-width="0.25">mediator symptoms</text>
<text id="F_yt2" transform="translate(325.60,793.152) rotate(-90)" x="0" y="0" font-size="14.3" textLength="64.174" lengthAdjust="spacingAndGlyphs" stroke="#0a0a0a" stroke-width="0.25">% of patients</text>
</g>
</svg>
<div class="frame"></div>
</body></html>
